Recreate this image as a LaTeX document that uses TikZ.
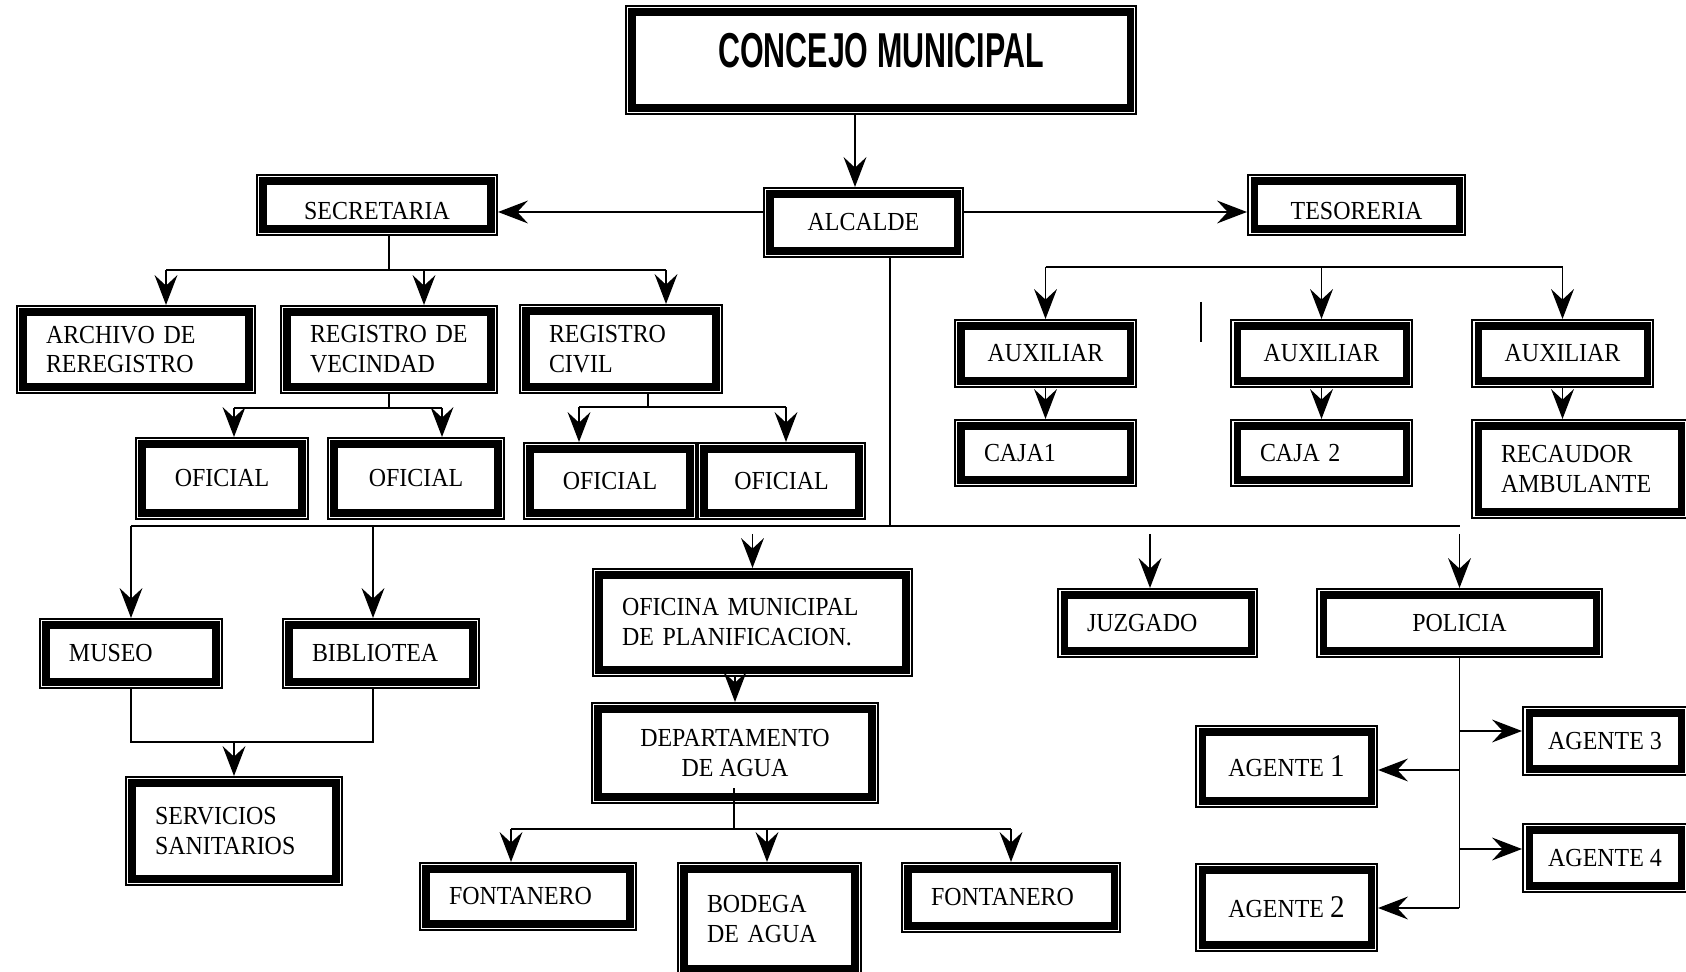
\documentclass[tikz,border=0pt]{standalone}
\usepackage{fontspec}
\setmainfont{Liberation Serif}[FakeStretch=0.92]
\newfontfamily\titlefont{Liberation Sans}[FakeStretch=0.62]
\usetikzlibrary{arrows.meta}

\tikzset{
  box/.style={draw, fill=white, line width=4pt, outer sep=4pt, inner sep=0pt,
    preaction={draw, line width=7.9pt},
    preaction={draw, white, line width=6.2pt},
    font=\fontsize{14.8}{17}\selectfont},
  lbox/.style={box, align=left, inner xsep=0.46cm, text width=#1},
  ln/.style={line width=0.9pt},
  arr/.style={line width=0.9pt, -{Stealth[length=17pt, width=13pt, inset=6pt]}}
}

\begin{document}
\begin{tikzpicture}
\useasboundingbox (0,0) rectangle (33.72,-19.44);

% arriba
\node[box, minimum width=9.96cm, minimum height=1.92cm, font=\titlefont\bfseries\fontsize{27.9}{30}\selectfont, text height=0.7cm, text depth=0.38cm] (concejo) at (17.62,-1.20) {CONCEJO MUNICIPAL};
\node[box, minimum width=3.74cm, minimum height=1.14cm] (alcalde) at (17.27,-4.45) {ALCALDE};
\node[box, minimum width=4.56cm, minimum height=0.96cm, text height=0.6cm, text depth=0cm] (secretaria) at (7.54,-4.10) {SECRETARIA};
\node[box, minimum width=4.10cm, minimum height=0.96cm, text height=0.6cm, text depth=0cm] (tesoreria) at (27.13,-4.10) {TESORERIA};

% secretaria
\node[lbox=3.60cm, minimum height=1.50cm] (archivo) at (2.72,-6.99) {ARCHIVO DE\\REREGISTRO};
\node[lbox=3.16cm, minimum height=1.50cm] (vecindad) at (7.78,-6.99) {REGISTRO DE\\VECINDAD};
\node[lbox=2.88cm, minimum height=1.52cm] (civil) at (12.42,-6.98) {REGISTRO\\CIVIL};
\node[box, minimum width=3.20cm, minimum height=1.38cm] (of1) at (4.44,-9.57) {OFICIAL};
\node[box, minimum width=3.28cm, minimum height=1.38cm] (of2) at (8.32,-9.57) {OFICIAL};
\node[box, minimum width=3.20cm, minimum height=1.28cm] (of3) at (12.20,-9.62) {OFICIAL};
\node[box, minimum width=3.10cm, minimum height=1.28cm] (of4) at (15.63,-9.62) {OFICIAL};

% tesoreria
\node[box, minimum width=3.38cm, minimum height=1.10cm] (aux1) at (20.91,-7.07) {AUXILIAR};
\node[box, minimum width=3.38cm, minimum height=1.10cm] (aux2) at (26.43,-7.07) {AUXILIAR};
\node[box, minimum width=3.38cm, minimum height=1.10cm] (aux3) at (31.25,-7.07) {AUXILIAR};
\node[lbox=2.46cm, minimum height=1.08cm] (caja1) at (20.91,-9.06) {CAJA1};
\node[lbox=2.46cm, minimum height=1.08cm] (caja2) at (26.43,-9.06) {CAJA 2};
\node[lbox=3.14cm, minimum height=1.72cm] (recaudor) at (31.59,-9.38) {RECAUDOR\\AMBULANTE};

% abajo
\node[lbox=2.48cm, minimum height=1.14cm] (museo) at (2.62,-13.07) {MUSEO};
\node[lbox=2.76cm, minimum height=1.14cm] (biblio) at (7.62,-13.07) {BIBLIOTEA};
\node[lbox=3.16cm, minimum height=1.92cm] (servicios) at (4.68,-16.62) {SERVICIOS\\SANITARIOS};
\node[lbox=5.22cm, minimum height=1.90cm] (oficina) at (15.05,-12.45) {OFICINA MUNICIPAL\\DE PLANIFICACION.};
\node[box, align=center, minimum width=5.48cm, minimum height=1.76cm] (depto) at (14.70,-15.06) {DEPARTAMENTO\\DE AGUA};
\node[lbox=3.16cm, minimum height=1.10cm] (font1) at (10.56,-17.93) {FONTANERO};
\node[lbox=2.50cm, minimum height=2.00cm] (bodega) at (15.39,-18.38) {BODEGA\\DE AGUA};
\node[lbox=3.20cm, minimum height=1.14cm] (font2) at (20.22,-17.95) {FONTANERO};
\node[lbox=2.82cm, minimum height=1.12cm] (juzgado) at (23.15,-12.46) {JUZGADO};
\node[box, minimum width=5.46cm, minimum height=1.12cm] (policia) at (29.19,-12.46) {POLICIA};
\node[box, minimum width=3.38cm, minimum height=1.38cm] (agente1) at (25.73,-15.33) {AGENTE {\fontsize{18}{17}\selectfont 1}};
\node[box, minimum width=3.38cm, minimum height=1.50cm] (agente2) at (25.73,-18.15) {AGENTE {\fontsize{18}{17}\selectfont 2}};
\node[box, minimum width=3.04cm, minimum height=1.12cm] (agente3) at (32.10,-14.82) {AGENTE 3};
\node[box, minimum width=3.04cm, minimum height=1.12cm] (agente4) at (32.10,-17.16) {AGENTE 4};

% lineas
\coordinate (c0) at (17.10,0);
\draw[arr] (c0 |- concejo.south) -- (c0 |- alcalde.north);
\coordinate (a0) at (0,-4.24);
\draw[arr] (alcalde.west |- a0) -- (secretaria.east |- a0);
\draw[arr] (alcalde.east |- a0) -- (tesoreria.west |- a0);

\coordinate (s0) at (7.78,-5.40);
\coordinate (s1) at (3.32,-5.40);
\coordinate (s2) at (8.48,-5.40);
\coordinate (s3) at (13.32,-5.40);
\draw[ln] (s0 |- secretaria.south) -- (s0);
\draw[ln] (s1) -- (s3);
\draw[arr] (s1) -- (s1 |- archivo.north);
\draw[arr] (s2) -- (s2 |- vecindad.north);
\draw[arr] (s3) -- (s3 |- civil.north);

\coordinate (v1) at (4.68,-8.16);
\coordinate (v2) at (8.84,-8.16);
\draw[ln] (vecindad.south) -- (vecindad.south |- v1);
\draw[ln] (v1) -- (v2);
\draw[arr] (v1) -- (v1 |- of1.north);
\draw[arr] (v2) -- (v2 |- of2.north);

\coordinate (r0) at (12.96,-8.14);
\coordinate (r1) at (11.58,-8.14);
\coordinate (r2) at (15.72,-8.14);
\draw[ln] (r0 |- civil.south) -- (r0);
\draw[ln] (r1) -- (r2);
\draw[arr] (r1) -- (r1 |- of3.north);
\draw[arr] (r2) -- (r2 |- of4.north);

\coordinate (t0) at (0,-5.34);
\draw[ln] (aux1.north |- t0) -- (aux3.north |- t0);
\draw[arr] (aux1.north |- t0) -- (aux1.north);
\draw[arr] (aux2.north |- t0) -- (aux2.north);
\draw[arr] (aux3.north |- t0) -- (aux3.north);
\draw[arr] (aux1.south) -- (caja1.north);
\draw[arr] (aux2.south) -- (caja2.north);
\draw[arr] (aux3.south) -- (aux3.south |- recaudor.north);
\draw[ln] (24.02,-6.04) -- (24.02,-6.84);

\coordinate (hub) at (17.80,-10.52);
\draw[ln] (hub |- alcalde.south) -- (hub);
\draw[ln] (museo.north |- hub) -- (policia.north |- hub);
\draw[arr] (museo.north |- hub) -- (museo.north);
\coordinate (b0) at (7.46,-10.52);
\draw[arr] (b0) -- (b0 |- biblio.north);
\coordinate (g0) at (0,-10.68);
\draw[arr] (oficina.north |- g0) -- (oficina.north);
\coordinate (j0) at (23.00,-10.68);
\draw[arr] (j0) -- (j0 |- juzgado.north);
\draw[arr] (policia.north |- g0) -- (policia.north);
\draw[arr] (oficina.south -| depto.north) -- (depto.north);

\coordinate (m0) at (0,-14.84);
\draw[ln] (museo.south) -- (museo.south |- m0) -- (b0 |- m0) -- (b0 |- biblio.south);
\draw[arr] (servicios.north |- m0) -- (servicios.north);

\coordinate (d0) at (14.68,-15.76);
\coordinate (d1) at (10.22,-16.58);
\coordinate (d2) at (15.34,-16.58);
\coordinate (d3) at (20.22,-16.58);
\draw[ln] (d0) -- (d0 |- d1);
\draw[ln] (d1) -- (d3);
\draw[arr] (d1) -- (d1 |- font1.north);
\draw[arr] (d2) -- (d2 |- bodega.north);
\draw[arr] (d3) -- (d3 |- font2.north);

\coordinate (p1) at (29.18,-14.62);
\coordinate (p2) at (29.18,-15.40);
\coordinate (p3) at (29.18,-16.98);
\coordinate (p4) at (29.18,-18.16);
\draw[ln] (policia.south) -- (policia.south |- p4);
\draw[arr] (p1) -- (p1 -| agente3.west);
\draw[arr] (p2) -- (p2 -| agente1.east);
\draw[arr] (p3) -- (p3 -| agente4.west);
\draw[arr] (p4) -- (p4 -| agente2.east);
\end{tikzpicture}
\end{document}
